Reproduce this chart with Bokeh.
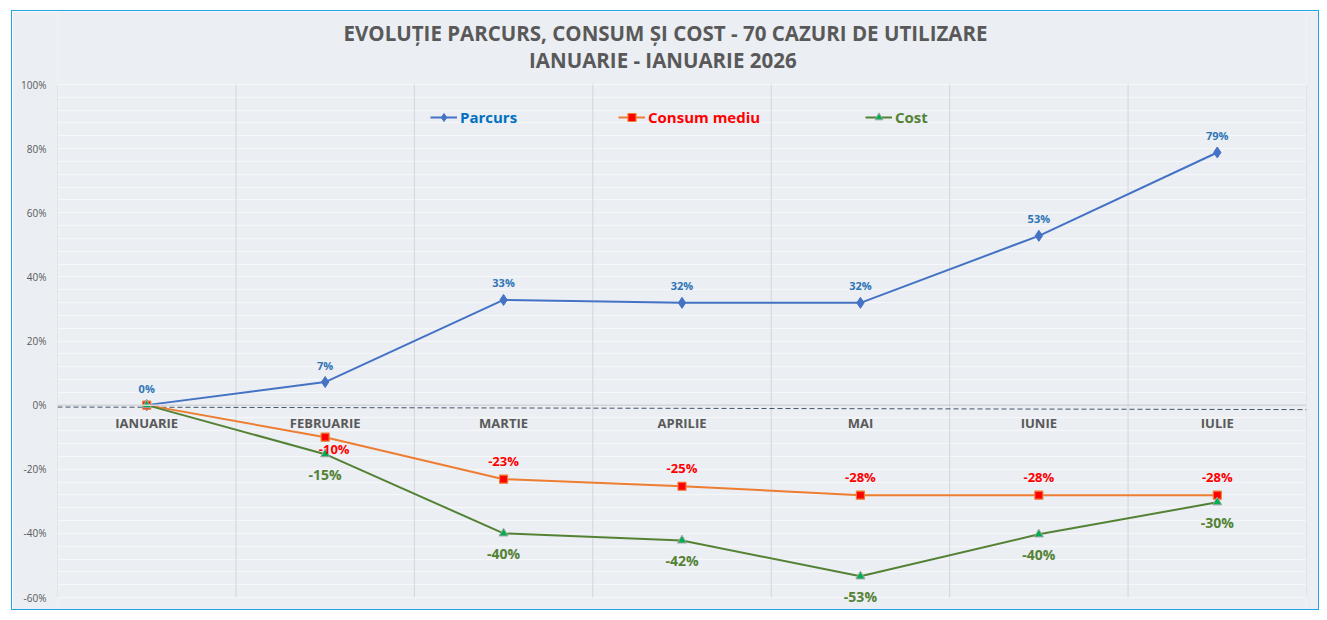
from bokeh.plotting import figure
from bokeh.models import (ColumnDataSource, FixedTicker, PrintfTickFormatter, Legend,
                          LegendItem, Span)
from bokeh.core.properties import value
from bokeh.embed import file_html
from bokeh.resources import INLINE

categories = ["IANUARIE", "FEBRUARIE", "MARTIE", "APRILIE", "MAI", "IUNIE", "IULIE"]
parcurs = [0.0, 7.2, 32.8, 31.9, 31.9, 52.8, 78.8]
consum = [0.0, -10.0, -23.1, -25.3, -28.1, -28.1, -28.1]
cost = [0.0, -15.3, -40.0, -42.2, -53.4, -40.3, -30.3]
parcurs_labels = ["0%", "7%", "33%", "32%", "32%", "53%", "79%"]
consum_labels = ["", "-10%", "-23%", "-25%", "-28%", "-28%", "-28%"]
cost_labels = ["", "-15%", "-40%", "-42%", "-53%", "-40%", "-30%"]
y_ticks = [-60, -40, -20, 0, 20, 40, 60, 80, 100]
baseline_x = [-0.5, 6.5]
baseline_y = [-0.6, -1.4]
title_lines = ["EVOLUȚIE PARCURS, CONSUM ȘI COST - 70 CAZURI DE UTILIZARE",
               "IANUARIE - IANUARIE  2026"]

x = list(range(len(categories)))
FONT = "Open Sans"
BG = "#EBEEF3"

# geometry: the value axis spans -60..100 over 513 px; the frame is extended
# upward/downward so the title and the lowest labels are not clipped
Y_MIN, Y_MAX = -60, 100
PLOT_H = 513.0
TOP_PX, BOTTOM_PX = 73, 12
ppu = PLOT_H / (Y_MAX - Y_MIN)
y_top = Y_MAX + TOP_PX / ppu
y_bottom = Y_MIN - BOTTOM_PX / ppu

p = figure(width=1308, height=600, x_range=(-0.5, 6.5), y_range=(y_bottom, y_top),
           output_backend="svg", toolbar_location=None,
           background_fill_color=BG, border_fill_color=BG,
           min_border_left=45, min_border_right=14, min_border_bottom=2, min_border_top=0,
           margin=(10, 0, 0, 11))
p.styles = {"border": "1px solid #1FA5E3"}
p.outline_line_color = None

# axes / grids
p.xaxis.visible = False
p.xgrid.visible = False

p.yaxis.ticker = FixedTicker(ticks=y_ticks, minor_ticks=list(range(Y_MIN, Y_MAX + 1, 4)))
p.yaxis.formatter = PrintfTickFormatter(format="%d%%")
p.yaxis.axis_line_color = None
p.yaxis.major_tick_line_color = None
p.yaxis.minor_tick_line_color = None
p.yaxis.major_tick_out = 0
p.yaxis.minor_tick_out = 0
p.yaxis.major_label_text_font = FONT
p.yaxis.major_label_text_font_size = "10px"
p.yaxis.major_label_text_color = "#595959"
p.yaxis.major_label_standoff = 11
p.ygrid.grid_line_color = "#F6F7F9"
p.ygrid.minor_grid_line_color = "#F6F7F9"
p.ygrid.level = "image"

# vertical category separators, limited to the value range
bounds = [i - 0.5 for i in range(len(categories) + 1)]
p.segment(x0=bounds, y0=[Y_MIN] * len(bounds), x1=bounds, y1=[Y_MAX] * len(bounds),
          line_color="#D3D5D9", line_width=1)

p.add_layout(Span(location=0, dimension="width", line_color="#D3D5D9", line_width=1.5))

# dashed reference line
p.line(baseline_x, baseline_y, line_color="#44546A", line_dash="5 3", line_width=1)

# title (two lines)
title_x = (665 - 57) / 1249 * 7 - 0.5
title_src = ColumnDataSource(dict(x=[title_x, title_x],
                                  y=[Y_MAX + (85 - 33) / ppu, Y_MAX + (85 - 60) / ppu],
                                  t=title_lines))
p.text("x", "y", text="t", source=title_src, text_font=value(FONT), text_font_size="20.5px",
       text_font_style="bold", text_color="#595959", text_align="center",
       text_baseline="middle")

# category labels along the zero line
cat_src = ColumnDataSource(dict(x=x, y=[0] * len(x), t=categories))
p.text("x", "y", text="t", source=cat_src, text_font=value(FONT), text_font_size="13px",
       text_font_style="bold", text_color="#595959", text_align="center",
       text_baseline="middle", y_offset=18)

src = ColumnDataSource(dict(x=x, parcurs=parcurs, consum=consum, cost=cost,
                            pl=parcurs_labels, cl=consum_labels, kl=cost_labels))

l_p = p.line("x", "parcurs", source=src, line_color="#4472C4", line_width=2)
m_p = p.scatter("x", "parcurs", source=src, marker="diamond", size=11,
                fill_color="#4472C4", line_color="#4472C4")
l_c = p.line("x", "consum", source=src, line_color="#ED7D31", line_width=2)
m_c = p.scatter("x", "consum", source=src, marker="square", size=8,
                fill_color="#FF0000", line_color="#ED7D31", line_width=1.2)
l_k = p.line("x", "cost", source=src, line_color="#548235", line_width=2)
m_k = p.scatter("x", "cost", source=src, marker="triangle", size=9,
                fill_color="#00B050", line_color="#A5A5A5", line_width=1)

# data labels
p.text("x", "parcurs", text="pl", source=src, text_font=value(FONT), text_font_size="11px",
       text_font_style="bold", text_color="#2E75B6", text_align="center",
       text_baseline="middle", y_offset=-17)

c_x_off = [0, 9, 0, 0, 0, 0, 0]
c_y_off = [0, 12, -18, -18, -18, -18, -18]
csrc = ColumnDataSource(dict(x=x, y=consum, t=consum_labels, xo=c_x_off, yo=c_y_off))
p.text("x", "y", text="t", source=csrc, text_font=value(FONT), text_font_size="13px",
       text_font_style="bold", text_color="#FF0000", text_align="center",
       text_baseline="middle", x_offset="xo", y_offset="yo")

p.text("x", "cost", text="kl", source=src, text_font=value(FONT), text_font_size="14px",
       text_font_style="bold", text_color="#548235", text_align="center",
       text_baseline="middle", y_offset=20)

# legends (one per series to get individual label colours)
def add_legend(label, renderers, color, loc_x):
    lg = Legend(items=[LegendItem(label=label, renderers=renderers)],
                location=(loc_x, 470 + BOTTOM_PX), orientation="horizontal",
                background_fill_alpha=0, border_line_color=None,
                padding=0, margin=0, spacing=0, label_standoff=3,
                glyph_width=27, glyph_height=20,
                label_text_font=FONT, label_text_font_size="15px",
                label_text_font_style="bold", label_text_color=color)
    p.add_layout(lg, "center")

add_legend("Parcurs", [l_p, m_p], "#0070C0", 373)
add_legend("Consum mediu", [l_c, m_c], "#FF0000", 561)
add_legend("Cost", [l_k, m_k], "#548235", 808)

open("out.html", "w").write(file_html(p, INLINE))
